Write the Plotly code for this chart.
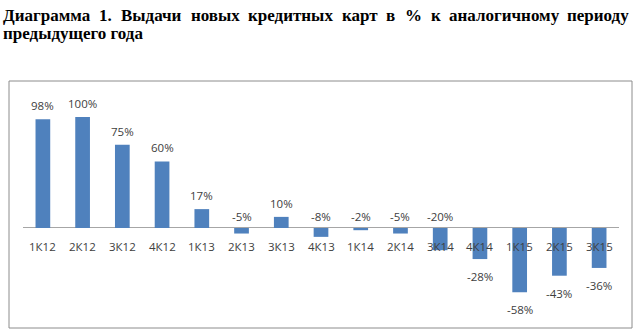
import plotly.graph_objects as go

# Quarterly issuance of new credit cards, % change vs. same quarter of previous year
quarters = ["1К12", "2К12", "3К12", "4К12", "1К13", "2К13", "3К13", "4К13",
            "1К14", "2К14", "3К14", "4К14", "1К15", "2К15", "3К15"]
growth_pct = [98, 100, 75, 60, 17, -5, 10, -8, -2, -5, -20, -28, -58, -43, -36]

title_line1 = "Диаграмма 1. Выдачи новых кредитных карт в % к аналогичному периоду"
title_line2 = "предыдущего года"

W, H = 640, 333
BAR_COLOR = "#4F81BD"
TEXT_GRAY = "#404040"
LABEL_FONT = dict(family="Open Sans", size=11.5, color=TEXT_GRAY)
TITLE_FONT = dict(family="Liberation Serif", size=17, color="black")

# plot area in pixels
PX_L, PX_R = 23, 619
PX_T, PX_B = 95, 315
Y_RANGE = [-78.4, 119.8]

fig = go.Figure()
fig.add_trace(go.Bar(
    x=list(range(len(quarters))),
    y=growth_pct,
    width=0.37,
    marker=dict(color=BAR_COLOR, line=dict(width=0)),
    hoverinfo="skip",
))

annotations = []

# category labels just under the zero line
for i, q in enumerate(quarters):
    annotations.append(dict(
        x=i, y=0, xref="x", yref="y", text=q, showarrow=False,
        xanchor="center", yanchor="top", yshift=-9, font=LABEL_FONT,
    ))

# value labels: above positive bars and small negatives, below large negatives
for i, v in enumerate(growth_pct):
    txt = f"{v}%"
    if v >= 0:
        annotations.append(dict(x=i, y=v, xref="x", yref="y", text=txt, showarrow=False,
                                xanchor="center", yanchor="bottom", yshift=4, font=LABEL_FONT))
    elif v > -25:
        annotations.append(dict(x=i, y=0, xref="x", yref="y", text=txt, showarrow=False,
                                xanchor="center", yanchor="bottom", yshift=2, font=LABEL_FONT))
    else:
        annotations.append(dict(x=i, y=v, xref="x", yref="y", text=txt, showarrow=False,
                                xanchor="center", yanchor="top", yshift=-8, font=LABEL_FONT))

# justified first title line: each word placed at its own left edge (pixels)
word_left_px = [1, 97, 119, 189, 246, 340, 384, 403, 429, 447, 565]
for word, xl in zip(title_line1.split(" "), word_left_px):
    annotations.append(dict(
        x=xl / W, y=1 - 4 / H, xref="paper", yref="paper", text=f"<b>{word}</b>",
        showarrow=False, xanchor="left", yanchor="top", font=dict(TITLE_FONT),
    ))
annotations.append(dict(
    x=1 / W, y=1 - 22 / H, xref="paper", yref="paper", text=f"<b>{title_line2}</b>",
    showarrow=False, xanchor="left", yanchor="top", font=dict(TITLE_FONT),
))

# chart frame
shapes = [dict(
    type="rect", xref="paper", yref="paper",
    x0=9 / W, x1=632 / W, y0=1 - 328 / H, y1=1 - 81 / H,
    line=dict(color="#8C8C8C", width=1), fillcolor="rgba(0,0,0,0)", layer="below",
)]

fig.update_layout(
    width=W, height=H,
    margin=dict(l=0, r=0, t=0, b=0),
    paper_bgcolor="white", plot_bgcolor="white",
    showlegend=False,
    annotations=annotations,
    shapes=shapes,
    xaxis=dict(domain=[PX_L / W, PX_R / W], range=[-0.5, len(quarters) - 0.5],
               showticklabels=False, showgrid=False, zeroline=False, ticks=""),
    yaxis=dict(domain=[1 - PX_B / H, 1 - PX_T / H], range=Y_RANGE,
               showticklabels=False, showgrid=False, zeroline=True,
               zerolinecolor="#A6A6A6", zerolinewidth=1, ticks=""),
)

fig.write_html("out.html")
